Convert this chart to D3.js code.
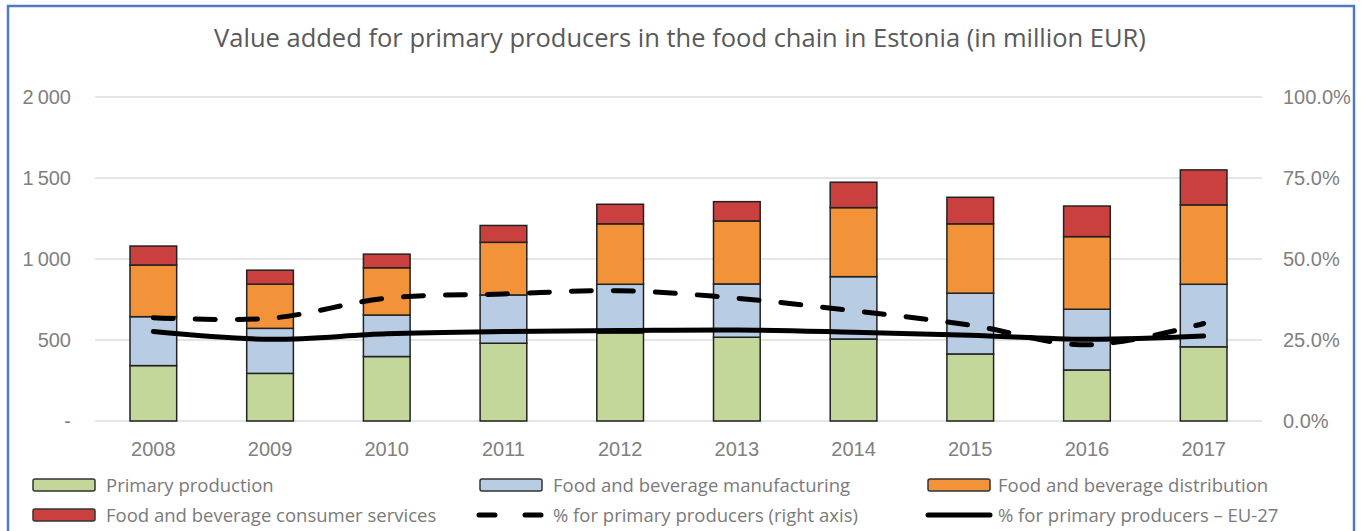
<!DOCTYPE html>
<html>
<head>
<meta charset="utf-8">
<script src="https://cdn.jsdelivr.net/npm/d3@7"></script>
<style>
  body { margin: 0; background: #fff; }
  svg { display: block; font-family: "Open Sans", sans-serif; }
</style>
</head>
<body>
<div id="chart"></div>
<script>
// data
const years = ["2008", "2009", "2010", "2011", "2012", "2013", "2014", "2015", "2016", "2017"];
const primaryProduction = [342, 294, 398, 480, 542, 517, 506, 414, 315, 458];
const manufacturing = [302, 278, 256, 298, 302, 329, 385, 375, 375, 386];
const distribution = [319, 273, 292, 325, 373, 389, 426, 428, 448, 490];
const consumerServices = [117, 86, 84, 104, 121, 119, 157, 164, 189, 216];
const shareEstonia = [31.9, 31.7, 37.9, 39.2, 40.2, 37.9, 34.0, 29.6, 23.5, 30.1];
const shareEU27 = [27.6, 25.2, 26.9, 27.6, 27.9, 28.1, 27.4, 26.5, 25.2, 26.2];
const leftTicks = [0, 500, 1000, 1500, 2000];
const rightTicks = [0, 25, 50, 75, 100];

const seriesNames = ["Primary production", "Food and beverage manufacturing",
  "Food and beverage distribution", "Food and beverage consumer services"];
const seriesColors = ["#c4d79b", "#b8cce4", "#f39339", "#c9403f"];

const width = 1361, height = 531;
const svg = d3.select("#chart").append("svg")
    .attr("width", width)
    .attr("height", height);

svg.append("rect").attr("width", width).attr("height", height).attr("fill", "#fff");

// blue frame round the chart
svg.append("rect")
    .attr("x", 8).attr("y", 6)
    .attr("width", 1346).attr("height", 540)
    .attr("fill", "none")
    .attr("stroke", "#4f79c4")
    .attr("stroke-width", 2.5);

svg.append("text")
    .attr("x", 680).attr("y", 47)
    .attr("text-anchor", "middle")
    .attr("fill", "#595959")
    .style("font-size", "25.5px")
    .text("Value added for primary producers in the food chain in Estonia (in million EUR)");

const x = d3.scaleBand().domain(years).range([95, 1262]).paddingInner(0.6).paddingOuter(0.3);
const y = d3.scaleLinear().domain([0, 2000]).range([421, 97]);
const y2 = d3.scaleLinear().domain([0, 100]).range([421, 97]);

// gridlines
svg.append("g")
  .selectAll("line")
  .data(leftTicks)
  .join("line")
    .attr("x1", 95).attr("x2", 1262)
    .attr("y1", d => y(d)).attr("y2", d => y(d))
    .attr("stroke", "#dcdcdc")
    .attr("stroke-width", 1.5);

// left axis
const leftAxis = svg.append("g")
    .attr("transform", "translate(71,0)")
    .call(d3.axisLeft(y).tickValues(leftTicks).tickSize(0).tickPadding(0)
      .tickFormat(d => d === 0 ? "-" : d3.format(",")(d).replace(",", "\u2009")));
leftAxis.select(".domain").remove();
leftAxis.selectAll("text").attr("fill", "#808080").style("font-size", "20px").attr("font-family", null);

// right axis
const rightAxis = svg.append("g")
    .attr("transform", "translate(1283,0)")
    .call(d3.axisRight(y2).tickValues(rightTicks).tickSize(0).tickPadding(0)
      .tickFormat(d => d3.format(".1f")(d) + "%"));
rightAxis.select(".domain").remove();
rightAxis.selectAll("text").attr("fill", "#808080").style("font-size", "20px").attr("font-family", null);

// bottom axis
const bottomAxis = svg.append("g")
    .attr("transform", "translate(0,430)")
    .call(d3.axisBottom(x).tickSize(0).tickPadding(12));
bottomAxis.select(".domain").remove();
bottomAxis.selectAll("text").attr("fill", "#808080").style("font-size", "20px").attr("font-family", null);

// stacked bars
const rows = years.map((yr, i) => ({
  year: yr,
  s0: primaryProduction[i], s1: manufacturing[i], s2: distribution[i], s3: consumerServices[i]
}));
const stack = d3.stack().keys(["s0", "s1", "s2", "s3"])(rows);

svg.append("g")
  .selectAll("g")
  .data(stack)
  .join("g")
    .attr("fill", (d, i) => seriesColors[i])
  .selectAll("rect")
  .data(d => d)
  .join("rect")
    .attr("x", d => x(d.data.year))
    .attr("width", x.bandwidth())
    .attr("y", d => y(d[1]))
    .attr("height", d => y(d[0]) - y(d[1]))
    .attr("stroke", "#222")
    .attr("stroke-width", 1.5);

// lines
const line = d3.line()
    .x((d, i) => x(years[i]) + x.bandwidth() / 2)
    .y(d => y2(d))
    .curve(d3.curveCatmullRom);

svg.append("path")
    .datum(shareEstonia)
    .attr("d", line)
    .attr("fill", "none")
    .attr("stroke", "#000")
    .attr("stroke-width", 5)
    .attr("stroke-linecap", "round")
    .attr("stroke-dasharray", "20,22");

svg.append("path")
    .datum(shareEU27)
    .attr("d", line)
    .attr("fill", "none")
    .attr("stroke", "#000")
    .attr("stroke-width", 5)
    .attr("stroke-linecap", "round");

// legend
const legendItems = [
  {name: seriesNames[0], type: "box", color: seriesColors[0], col: 0, row: 0},
  {name: seriesNames[1], type: "box", color: seriesColors[1], col: 1, row: 0},
  {name: seriesNames[2], type: "box", color: seriesColors[2], col: 2, row: 0},
  {name: seriesNames[3], type: "box", color: seriesColors[3], col: 0, row: 1},
  {name: "% for primary producers (right axis)", type: "dash", col: 1, row: 1},
  {name: "% for primary producers \u2013 EU-27", type: "line", col: 2, row: 1}
];
const colX = [33, 480, 928];
const rowY = [485, 515];

const legend = svg.append("g")
  .selectAll("g")
  .data(legendItems)
  .join("g")
    .attr("transform", d => `translate(${colX[d.col]},${rowY[d.row]})`);

legend.filter(d => d.type === "box").append("rect")
    .attr("x", 0).attr("y", -6)
    .attr("width", 62).attr("height", 12)
    .attr("rx", 2)
    .attr("fill", d => d.color)
    .attr("stroke", "#333")
    .attr("stroke-width", 1.5);

legend.filter(d => d.type !== "box").append("line")
    .attr("x1", d => d.type === "dash" ? -1 : 0).attr("x2", 62)
    .attr("y1", 0).attr("y2", 0)
    .attr("stroke", "#000")
    .attr("stroke-width", 5)
    .attr("stroke-linecap", "round")
    .attr("stroke-dasharray", d => d.type === "dash" ? "16,30" : null);

legend.append("text")
    .attr("x", d => d.col === 2 ? 70 : 73)
    .attr("y", 7)
    .attr("fill", "#7a7a7a")
    .style("font-size", "18.5px")
    .text(d => d.name);
</script>
</body>
</html>
